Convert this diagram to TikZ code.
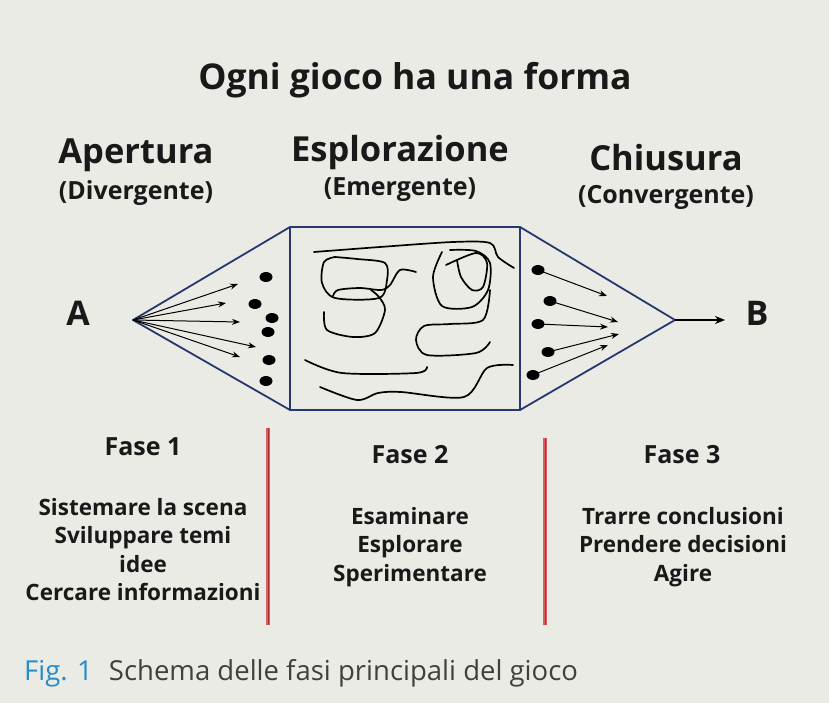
\documentclass[tikz,border=0pt]{standalone}
\usepackage{fontspec}
\setmainfont{Open Sans}
\usetikzlibrary{arrows.meta}
\definecolor{bg}{RGB}{235,235,229}
\definecolor{frame}{RGB}{40,55,110}
\definecolor{redl}{RGB}{215,95,95}
\definecolor{redd}{RGB}{170,50,50}
\definecolor{figblue}{RGB}{40,140,200}
\begin{document}
\begin{tikzpicture}[x=1pt,y=-1pt,
  txt/.style={inner sep=0pt,align=center,text=black!90,font=\bfseries},
  scrib/.style={line width=1.7pt,line cap=round,line join=round},
  arr/.style={line width=1pt,-{Stealth[length=8pt,width=6pt]}},
  redline/.style={redl,line width=4pt}]
\fill[bg] (0,0) rectangle (829,703);
\useasboundingbox (0,0) rectangle (829,703);
\node[txt,font=\fontsize{35.5}{36}\selectfont\bfseries] (title) at (415,80) {Ogni gioco ha una forma};
\node[txt,font=\fontsize{34.5}{35}\selectfont\bfseries] (h1) at (136,155) {Apertura};
\node[txt,font=\fontsize{25}{26}\selectfont\bfseries] (s1) at (136,193) {(Divergente)};
\node[txt,font=\fontsize{34.5}{35}\selectfont\bfseries] (h2) at (400,153) {Esplorazione};
\node[txt,font=\fontsize{25}{26}\selectfont\bfseries] (s2) at (400,190) {(Emergente)};
\node[txt,font=\fontsize{34.5}{35}\selectfont\bfseries] (h3) at (666,158) {Chiusura};
\node[txt,font=\fontsize{25}{26}\selectfont\bfseries] (s3) at (666,197) {(Convergente)};
\node[txt,font=\fontsize{34}{34}\selectfont\bfseries] (A) at (78,313) {A};
\node[txt,font=\fontsize{34}{34}\selectfont\bfseries] (B) at (757,313) {B};
% shape
\coordinate (pa) at (133,320);
\coordinate (pb) at (675,320);
\coordinate (tl) at (290,227); \coordinate (bl) at (290,410);
\coordinate (tr) at (520,227); \coordinate (br) at (520,410);
\coordinate (be) at (725,320);
\draw[frame,line width=1.8pt,line join=round] (pa) -- (tl) -- (tr) -- (pb) -- (br) -- (bl) -- cycle;
\draw[frame,line width=1.8pt] (tl) -- (bl) (tr) -- (br);
\draw[line width=1.4pt,-{Stealth[length=10pt,width=8pt]}] (pb) -- (be);
% left arrows
\foreach \e in {(238,284),(240,322),(256,347),(240,357),(226,303)}
  \draw[arr] (pa) -- \e;
\foreach \p in {(266,277),(255,304),(272,318),(268,332),(269,360),(266,381)}
  \fill \p ellipse (6.5 and 5);
% right
\foreach \s/\e in {{(538,270)}/{(607,296)},{(550,301)}/{(618,322)},{(538,324)}/{(608,327)},{(548,352)}/{(619,334)},{(533,375)}/{(608,345)}}{
  \fill \s ellipse (6.5 and 5);
  \draw[arr] \s -- \e;}
% scribbles
\draw[scrib] plot[smooth] coordinates {(314,252) (380,247) (453,242) (490,243) (498,257) (514,268)};
\draw[scrib] plot[smooth] coordinates {(416,272) (400,270) (390,285) (381,290) (360,288) (338,290) (333,296)};
\draw[scrib] plot[smooth] coordinates {(335,257) (324,262) (322,283) (335,298) (379,298) (387,280) (385,263) (357,259) (335,257)};
\draw[scrib] plot[smooth] coordinates {(324,312) (327,330) (353,337) (375,333) (385,310) (379,297) (371,290)};
\draw[scrib] plot[smooth] coordinates {(446,265) (476,253) (487,263) (483,287) (472,290) (461,277) (457,260)};
\draw[scrib] plot[smooth] coordinates {(442,252) (433,277) (442,306) (472,307) (488,290) (490,263) (476,251) (450,250)};
\draw[scrib] plot[smooth] coordinates {(490,290) (483,320) (450,324) (424,326) (416,340) (427,355) (476,353) (490,342)};
\draw[scrib] plot[smooth] coordinates {(305,360) (342,373) (416,373) (427,367)};
\draw[scrib] plot[smooth] coordinates {(320,387) (357,400) (378,393) (401,392) (464,397) (487,368) (513,365)};
% red lines
\draw[redline] (268,428) -- (268,625);
\draw[redline] (545,438) -- (545,625);
\draw[redd,line width=0.8pt] (268,428) -- (268,625) (545,438) -- (545,625);
% texts
\node[txt,font=\fontsize{25}{25}\selectfont\bfseries] (f1) at (143,447) {Fase 1};
\node[txt,font=\fontsize{25}{25}\selectfont\bfseries] (f2) at (410,455) {Fase 2};
\node[txt,font=\fontsize{25}{25}\selectfont\bfseries] (f3) at (682,455) {Fase 3};
\node[txt,font=\fontsize{22.5}{28.5}\selectfont\bfseries,anchor=north] (l1) at (143,498) {Sistemare la scena\\Sviluppare temi\\idee\\Cercare informazioni};
\node[txt,font=\fontsize{22.5}{28.5}\selectfont\bfseries,anchor=north] (l2) at (410,507) {Esaminare\\Esplorare\\Sperimentare};
\node[txt,font=\fontsize{22.5}{28.5}\selectfont\bfseries,anchor=north] (l3) at (683,507) {Trarre conclusioni\\Prendere decisioni\\Agire};
\node[inner sep=0pt,anchor=west,font=\fontsize{27.5}{27.5}\selectfont] (cap) at (24,673) {\textcolor{figblue}{Fig. 1}\hspace{16pt}\textcolor{black!75}{Schema delle fasi principali del gioco}};
\end{tikzpicture}
\end{document}
